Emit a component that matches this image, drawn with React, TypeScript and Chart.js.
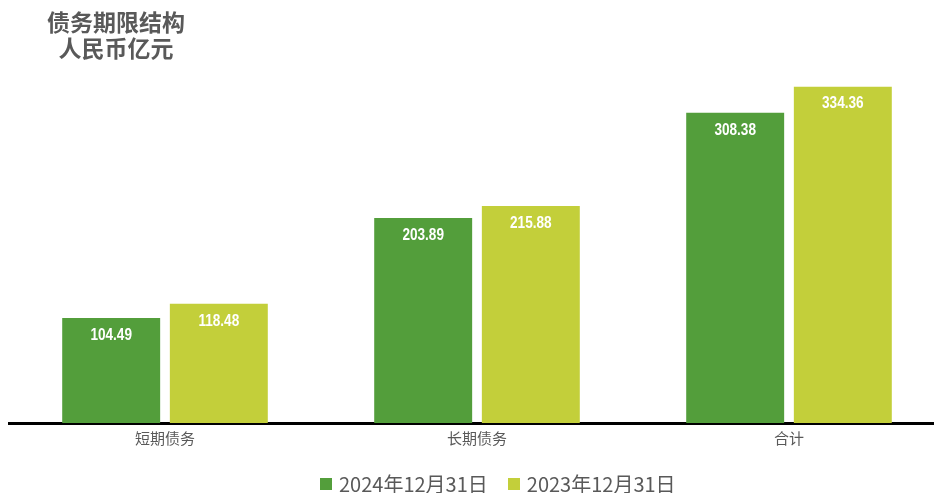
import React, { useEffect, useRef } from "react";
import { Chart, registerables } from "chart.js";

Chart.register(...registerables);

const categories = ["短期债务", "长期债务", "合计"];
const series2024 = [104.49, 203.89, 308.38];
const series2023 = [118.48, 215.88, 334.36];
const seriesLabels = ["2024年12月31日", "2023年12月31日"];
const seriesColors = ["#539E3B", "#C3CF3A"];
const titleLines = ["债务期限结构", "人民币亿元"];

const CJK = '"Noto Sans CJK SC", "Noto Sans", sans-serif';

const labelPlugin = {
  id: "barLabels",
  afterDatasetsDraw(chart: any) {
    const ctx = chart.ctx;
    chart.data.datasets.forEach((ds: any, i: number) => {
      const meta = chart.getDatasetMeta(i);
      meta.data.forEach((bar: any, j: number) => {
        ctx.save();
        ctx.fillStyle = "#ffffff";
        ctx.font = 'bold 17px "Liberation Sans", Arial, sans-serif';
        ctx.textAlign = "center";
        ctx.textBaseline = "middle";
        ctx.translate(bar.x, bar.y + 17);
        ctx.scale(0.8, 1);
        ctx.fillText(Number(ds.data[j]).toFixed(2), 0, 0);
        ctx.restore();
      });
    });
  },
};

export default function App() {
  const ref = useRef<HTMLCanvasElement>(null);
  useEffect(() => {
    const chart = new Chart(ref.current!, {
      type: "bar",
      data: {
        labels: categories,
        datasets: [
          { label: seriesLabels[0], data: series2024, backgroundColor: seriesColors[0] },
          { label: seriesLabels[1], data: series2023, backgroundColor: seriesColors[1] },
        ],
      },
      options: {
        animation: false,
        responsive: false,
        maintainAspectRatio: false,
        layout: { padding: { top: 71, left: 9, right: 1, bottom: 40 } },
        datasets: { bar: { categoryPercentage: 0.69, barPercentage: 0.91 } } as any,
        plugins: { legend: { display: false }, tooltip: { enabled: false } },
        scales: {
          x: {
            grid: { display: false, drawTicks: false },
            border: { display: true, color: "#000000", width: 3 },
            ticks: { color: "#595959", font: { family: CJK, size: 15 }, padding: 6 },
          },
          y: { display: false, min: 0, max: 350 },
        },
      },
      plugins: [labelPlugin],
    });
    return () => chart.destroy();
  }, []);

  return (
    <div style={{ position: "fixed", left: 0, top: 0, width: 934, height: 493, overflow: "hidden", background: "#fff" }}>
      <canvas ref={ref} width={946} height={493} style={{ position: "absolute", left: 0, top: 0, width: 946, height: 493 }} />
      <div
        style={{
          position: "absolute",
          left: 36,
          top: 8,
          width: 160,
          textAlign: "center",
          fontFamily: CJK,
          fontWeight: 700,
          fontSize: 23,
          lineHeight: "26px",
          color: "#595959",
        }}
      >
        {titleLines.map((t) => (
          <div key={t}>{t}</div>
        ))}
      </div>
      <div
        style={{
          position: "absolute",
          left: 320,
          top: 471,
          display: "flex",
          alignItems: "center",
          fontFamily: CJK,
          fontSize: 20,
          lineHeight: "25px",
          color: "#595959",
          whiteSpace: "nowrap",
        }}
      >
        {seriesLabels.map((l, i) => (
          <div key={l} style={{ display: "flex", alignItems: "center", marginRight: i === 0 ? 20 : 0 }}>
            <span style={{ display: "inline-block", width: 12, height: 12, background: seriesColors[i], marginRight: 7 }} />
            <span>{l}</span>
          </div>
        ))}
      </div>
    </div>
  );
}
